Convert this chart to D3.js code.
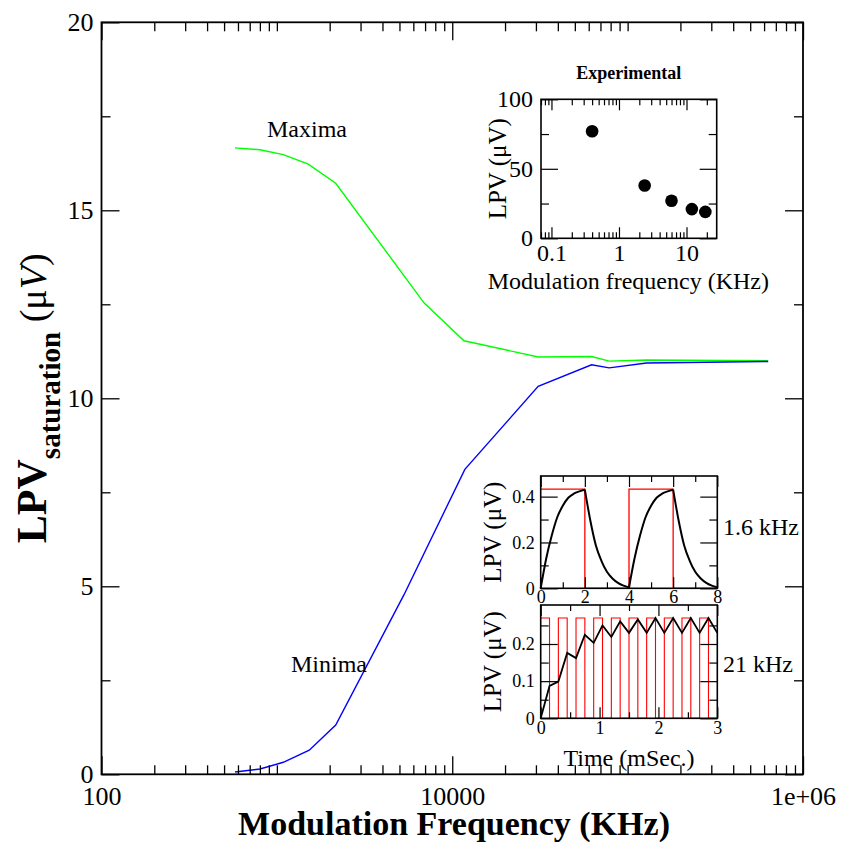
<!DOCTYPE html>
<html>
<head>
<meta charset="utf-8">
<script src="https://cdn.jsdelivr.net/npm/d3@7/dist/d3.min.js"></script>
<style>
  html, body { margin: 0; padding: 0; background: #fff; }
  svg { display: block; }
</style>
</head>
<body>
<script>
// ---- Main panel: saturation LPV vs modulation frequency ----
const maxFreq = [577, 801, 1088, 1510, 2165, 6900, 11660, 30900, 62300, 78500, 128200, 633000];
const maxVals = [16.66, 16.61, 16.48, 16.23, 15.72, 12.54, 11.53, 11.10, 11.11, 10.99, 11.02, 11.00];
const minFreq = [577, 801, 1088, 1530, 2165, 5300, 11800, 30900, 62300, 78500, 128200, 633000];
const minVals = [0.06, 0.14, 0.32, 0.64, 1.31, 4.77, 8.11, 10.32, 10.89, 10.81, 10.94, 10.98];
const mainXTicks = [100, 10000, 1000000];
const mainXTickLabels = ["100", "10000", "1e+06"];
const mainYTicks = [0, 5, 10, 15, 20];

// ---- Inset: experimental points ----
const expFreq = [0.4, 2.4, 6, 12, 19];
const expVals = [77, 38, 27, 21, 19];
const expXTicks = [0.1, 1, 10];
const expXTickLabels = ["0.1", "1", "10"];
const expYTicks = [0, 50, 100];

// ---- Inset: 1.6 kHz time trace ----
const t16 = [0, 0.25, 0.5, 0.75, 1, 1.25, 1.5, 1.75, 2, 2.25, 2.5, 2.75, 3, 3.25, 3.5, 3.75, 4,
             4.25, 4.5, 4.75, 5, 5.25, 5.5, 5.75, 6, 6.25, 6.5, 6.75, 7, 7.25, 7.5, 7.75, 8];
const v16 = [0, 0.13, 0.23, 0.31, 0.36, 0.395, 0.413, 0.423, 0.43, 0.295, 0.187, 0.12, 0.072, 0.043, 0.024, 0.012, 0.004,
             0.13, 0.23, 0.31, 0.36, 0.395, 0.413, 0.423, 0.43, 0.295, 0.187, 0.12, 0.072, 0.043, 0.024, 0.012, 0.004];
const light16Edges = [0, 2, 4, 6, 8];      // on/off switching times (starts "on")
const light16Level = 0.433;

// ---- Inset: 21 kHz time trace ----
const t21 = [0, 0.15, 0.3, 0.45, 0.6, 0.75, 0.9, 1.05, 1.2, 1.35, 1.5, 1.65, 1.8, 1.95, 2.1, 2.25, 2.4, 2.55, 2.7, 2.85, 3.0];
const v21 = [0, 0.087, 0.099, 0.176, 0.162, 0.225, 0.203, 0.25, 0.219, 0.261, 0.23, 0.266, 0.23, 0.27, 0.23, 0.27, 0.23, 0.27, 0.23, 0.27, 0.23];
const light21Edges = [0, 0.15, 0.3, 0.45, 0.6, 0.75, 0.9, 1.05, 1.2, 1.35, 1.5, 1.65, 1.8, 1.95, 2.1, 2.25, 2.4, 2.55, 2.7, 2.85, 3.0];
const light21Level = 0.27;

const SERIF = "'Liberation Serif', 'Times New Roman', serif";
const W = 843, H = 843;

const svg = d3.select("body").append("svg").attr("width", W).attr("height", H);
svg.append("rect").attr("width", W).attr("height", H).attr("fill", "#fff");

// Draws inward ticks on all four sides plus the frame of a panel.
function frameAxes(g, xs, ys, o) {
  const [xa, xb] = xs.range();
  const [yb, ya] = ys.range();
  const mk = (axisFn, scale, vals, size, tx, ty) => {
    const a = g.append("g").attr("transform", `translate(${tx},${ty})`)
      .call(axisFn(scale).tickValues(vals).tickSize(-size).tickFormat(""));
    a.select(".domain").remove();
    a.selectAll("line").attr("stroke", "#000").attr("stroke-width", o.tickW || 1.2);
  };
  mk(d3.axisBottom, xs, o.xMajor, o.xMajLen, 0, yb);
  mk(d3.axisTop, xs, o.xMajor, o.xMajLen, 0, ya);
  mk(d3.axisBottom, xs, o.xMinor, o.xMinLen, 0, yb);
  mk(d3.axisTop, xs, o.xMinor, o.xMinLen, 0, ya);
  mk(d3.axisLeft, ys, o.yMajor, o.yMajLen, xa, 0);
  mk(d3.axisRight, ys, o.yMajor, o.yMajLen, xb, 0);
  mk(d3.axisLeft, ys, o.yMinor, o.yMinLen, xa, 0);
  mk(d3.axisRight, ys, o.yMinor, o.yMinLen, xb, 0);
  g.append("rect").attr("x", xa).attr("y", ya).attr("width", xb - xa).attr("height", yb - ya)
    .attr("fill", "none").attr("stroke", "#000").attr("stroke-width", o.frameW || 1.6);

  // tick labels
  const xl = g.append("g").attr("transform", `translate(0,${yb})`)
    .call(d3.axisBottom(xs).tickValues(o.xLabVals).tickSize(0).tickPadding(o.xPad)
      .tickFormat((d, i) => o.xLabs[i]));
  xl.select(".domain").remove();
  xl.selectAll("text").attr("font-family", SERIF).attr("font-size", o.fs).attr("fill", "#000");
  const yl = g.append("g").attr("transform", `translate(${xa},0)`)
    .call(d3.axisLeft(ys).tickValues(o.yLabVals).tickSize(0).tickPadding(o.yPad)
      .tickFormat(o.yFmt));
  yl.select(".domain").remove();
  yl.selectAll("text").attr("font-family", SERIF).attr("font-size", o.fs).attr("fill", "#000");
}

// Minor tick values on a log axis: 2..9 times each power of ten, plus the unlabeled powers.
function logMinor(lo, hi, majors) {
  const out = [];
  for (let p = Math.floor(Math.log10(lo)); p <= Math.ceil(Math.log10(hi)); p++) {
    for (let m = 1; m <= 9; m++) {
      const v = m * Math.pow(10, p);
      if (v >= lo * 0.999 && v <= hi * 1.001 && !majors.some(M => Math.abs(M - v) / v < 1e-6)) out.push(v);
    }
  }
  return out;
}

// ================= Main panel =================
const M = { x0: 101.5, x1: 803, y0: 22.3, y1: 774.3 };
const x = d3.scaleLog().domain([100, 1e6]).range([M.x0, M.x1]);
const y = d3.scaleLinear().domain([0, 20]).range([M.y1, M.y0]);
const gMain = svg.append("g");

const lineMain = d3.line().x(d => x(d[0])).y(d => y(d[1]));
gMain.append("path").datum(d3.zip(maxFreq, maxVals)).attr("d", lineMain)
  .attr("fill", "none").attr("stroke", "#00ff00").attr("stroke-width", 1.4);
gMain.append("path").datum(d3.zip(minFreq, minVals)).attr("d", lineMain)
  .attr("fill", "none").attr("stroke", "#0000ff").attr("stroke-width", 1.4);

frameAxes(gMain, x, y, {
  xMajor: mainXTicks, xMinor: logMinor(100, 1e6, mainXTicks), xMajLen: 18, xMinLen: 9,
  yMajor: mainYTicks, yMinor: [2.5, 7.5, 12.5, 17.5], yMajLen: 18, yMinLen: 9,
  xLabVals: mainXTicks, xLabs: mainXTickLabels, xPad: 12, yLabVals: mainYTicks, yPad: 8,
  yFmt: d3.format("d"), fs: 26, frameW: 1.8, tickW: 1.3
});

gMain.append("text").attr("x", 267).attr("y", 137).attr("font-family", SERIF).attr("font-size", 24).text("Maxima");
gMain.append("text").attr("x", 291).attr("y", 672).attr("font-family", SERIF).attr("font-size", 24).text("Minima");

svg.append("text").attr("x", 454).attr("y", 835).attr("text-anchor", "middle")
  .attr("font-family", SERIF).attr("font-weight", "bold").attr("font-size", 34)
  .text("Modulation Frequency (KHz)");

const yt = svg.append("text").attr("transform", `translate(46,${(M.y0 + M.y1) / 2}) rotate(-90)`)
  .attr("text-anchor", "middle").attr("font-family", SERIF);
yt.append("tspan").attr("font-weight", "bold").attr("font-size", 42).text("LPV");
yt.append("tspan").attr("font-weight", "bold").attr("font-size", 29).attr("dy", 14).text("saturation");
yt.append("tspan").attr("font-size", 38).attr("dy", -14).text(" (\u03bc");
yt.append("tspan").attr("font-size", 38).attr("font-style", "italic").text("V");
yt.append("tspan").attr("font-size", 38).text(")");

// ================= Inset: experimental =================
const E = { x0: 541, x1: 716.7, y0: 99.3, y1: 238.3 };
const ex = d3.scaleLog().domain([0.07, 28]).range([E.x0, E.x1]);
const ey = d3.scaleLinear().domain([0, 100]).range([E.y1, E.y0]);
const gE = svg.append("g");
gE.append("rect").attr("x", E.x0).attr("y", E.y0).attr("width", E.x1 - E.x0).attr("height", E.y1 - E.y0).attr("fill", "#fff");
frameAxes(gE, ex, ey, {
  xMajor: expXTicks, xMinor: logMinor(0.07, 28, expXTicks), xMajLen: 11, xMinLen: 6,
  yMajor: expYTicks, yMinor: [25, 75], yMajLen: 17, yMinLen: 8,
  xLabVals: expXTicks, xLabs: expXTickLabels, xPad: 6, yLabVals: expYTicks, yPad: 8,
  yFmt: d3.format("d"), fs: 24, frameW: 1.6, tickW: 1.2
});
gE.selectAll("circle.pt").data(d3.zip(expFreq, expVals)).join("circle").attr("class", "pt")
  .attr("cx", d => ex(d[0])).attr("cy", d => ey(d[1])).attr("r", 6.3).attr("fill", "#000");
gE.append("text").attr("x", (E.x0 + E.x1) / 2).attr("y", 79).attr("text-anchor", "middle")
  .attr("font-family", SERIF).attr("font-weight", "bold").attr("font-size", 18).text("Experimental");
gE.append("text").attr("x", (E.x0 + E.x1) / 2 - 0.5).attr("y", 289).attr("text-anchor", "middle")
  .attr("font-family", SERIF).attr("font-size", 24).text("Modulation frequency (KHz)");

function lpvLabel(g, cx, cy, fs) {
  const t = g.append("text").attr("transform", `translate(${cx},${cy}) rotate(-90)`)
    .attr("text-anchor", "middle").attr("font-family", SERIF).attr("font-size", fs);
  t.append("tspan").text("LPV (\u03bcV)");
}
lpvLabel(gE, 506, (E.y0 + E.y1) / 2, 25);

// ================= Inset: 1.6 kHz =================
const P = { x0: 540.7, x1: 717.3, y0: 476, y1: 588.3 };
const px = d3.scaleLinear().domain([0, 8]).range([P.x0, P.x1]);
const py = d3.scaleLinear().domain([0, 0.49]).range([P.y1, P.y0]);
const gP = svg.append("g");
gP.append("rect").attr("x", P.x0).attr("y", P.y0).attr("width", P.x1 - P.x0).attr("height", P.y1 - P.y0).attr("fill", "#fff");

// Square light stimulus built from its switching times
function stimulus(edges, level) {
  const pts = [];
  for (let i = 0; i < edges.length - 1; i++) {
    const on = i % 2 === 0;
    pts.push([edges[i], on ? level : 0], [edges[i + 1], on ? level : 0]);
  }
  return pts;
}
const stepLine = (xs, ys) => d3.line().x(d => xs(d[0])).y(d => ys(d[1]));
gP.append("path").datum(stimulus(light16Edges, light16Level)).attr("d", stepLine(px, py))
  .attr("fill", "none").attr("stroke", "#ff0000").attr("stroke-width", 1.3);

// Response curve, smoothed within each on/off phase
const trace16 = d3.zip(t16, v16);
const smooth16 = d3.line().x(d => px(d[0])).y(d => py(d[1])).curve(d3.curveMonotoneX);
for (let i = 0; i < light16Edges.length - 1; i++) {
  const seg = trace16.filter(d => d[0] >= light16Edges[i] - 1e-9 && d[0] <= light16Edges[i + 1] + 1e-9);
  gP.append("path").datum(seg).attr("d", smooth16).attr("fill", "none").attr("stroke", "#000").attr("stroke-width", 2);
}
frameAxes(gP, px, py, {
  xMajor: [0, 2, 4, 6, 8], xMinor: [1, 3, 5, 7], xMajLen: 11, xMinLen: 6,
  yMajor: [0, 0.2, 0.4], yMinor: [0.1, 0.3], yMajLen: 17, yMinLen: 8,
  xLabVals: [0, 2, 4, 6, 8], xLabs: ["0", "2", "4", "6", "8"], xPad: 2,
  yLabVals: [0, 0.2, 0.4], yPad: 6, yFmt: d => d === 0 ? "0" : d3.format(".1f")(d),
  fs: 18, frameW: 1.6, tickW: 1.2
});
lpvLabel(gP, 501, (P.y0 + P.y1) / 2, 25);
gP.append("text").attr("x", 723).attr("y", 535).attr("font-family", SERIF).attr("font-size", 24).text("1.6 kHz");

// ================= Inset: 21 kHz =================
const Q = { x0: 540.7, x1: 717.3, y0: 605, y1: 718.3 };
const qx = d3.scaleLinear().domain([0, 3]).range([Q.x0, Q.x1]);
const qy = d3.scaleLinear().domain([0, 0.305]).range([Q.y1, Q.y0]);
const gQ = svg.append("g");
gQ.append("rect").attr("x", Q.x0).attr("y", Q.y0).attr("width", Q.x1 - Q.x0).attr("height", Q.y1 - Q.y0).attr("fill", "#fff");
gQ.append("path").datum(stimulus(light21Edges, light21Level)).attr("d", stepLine(qx, qy))
  .attr("fill", "none").attr("stroke", "#ff0000").attr("stroke-width", 1.1);
gQ.append("path").datum(d3.zip(t21, v21)).attr("d", stepLine(qx, qy))
  .attr("fill", "none").attr("stroke", "#000").attr("stroke-width", 1.8);
frameAxes(gQ, qx, qy, {
  xMajor: [0, 1, 2, 3], xMinor: [0.5, 1.5, 2.5], xMajLen: 11, xMinLen: 6,
  yMajor: [0, 0.1, 0.2], yMinor: [0.05, 0.15, 0.25], yMajLen: 17, yMinLen: 8,
  xLabVals: [0, 1, 2, 3], xLabs: ["0", "1", "2", "3"], xPad: 3,
  yLabVals: [0, 0.1, 0.2], yPad: 6, yFmt: d => d === 0 ? "0" : d3.format(".1f")(d),
  fs: 18, frameW: 1.6, tickW: 1.2
});
lpvLabel(gQ, 501, (Q.y0 + Q.y1) / 2, 25);
gQ.append("text").attr("x", 723).attr("y", 672).attr("font-family", SERIF).attr("font-size", 24).text("21 kHz");
gQ.append("text").attr("x", (Q.x0 + Q.x1) / 2).attr("y", 766).attr("text-anchor", "middle")
  .attr("font-family", SERIF).attr("font-size", 24).text("Time (mSec.)");
</script>
</body>
</html>
